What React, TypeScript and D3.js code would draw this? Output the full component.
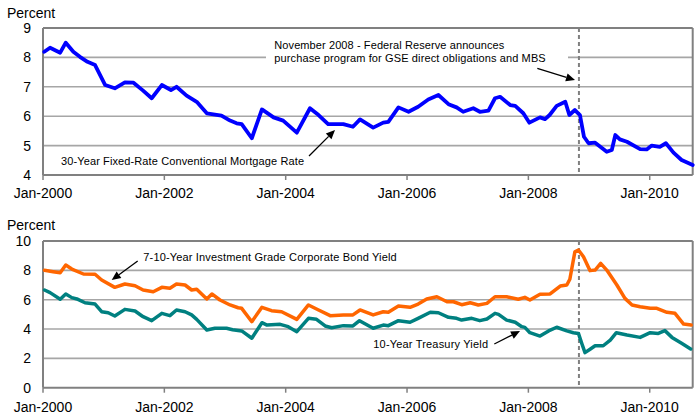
import React from "react";
import * as d3 from "d3";

// Months since Jan-2000 (fractional positions) and values
const mortgageMonths = [0.25,1.4,3.4,4.5,6,7.3,8.8,10.3,12.3,14.2,16.2,17.9,19.8,21.5,23.5,25.3,26.4,28.4,30.4,32.4,35.3,37,38.3,39.3,41.3,43.3,45.6,47.5,50.2,52.8,54.5,56.4,59.4,61.3,62.7,65.3,67.3,68.3,70.3,72.3,74.2,76.2,78.2,80.2,81.8,83.1,85.1,86.4,88.1,89.4,90.4,92.4,93.4,95,96.2,98.3,99.3,100.2,101.6,103.3,104.1,105.2,106.2,107,107.9,109.2,111.5,112.5,113.2,114.1,115.5,118.1,119.4,120.4,122,123.2,124.7,126.3,128.5];
const mortgageRates = [8.19,8.33,8.16,8.5,8.19,8.02,7.85,7.74,7.06,6.95,7.15,7.14,6.87,6.61,7.06,6.89,7.0,6.7,6.49,6.1,6.02,5.85,5.76,5.73,5.25,6.23,5.96,5.85,5.44,6.27,6.04,5.73,5.73,5.64,5.89,5.61,5.78,5.81,6.3,6.15,6.32,6.57,6.72,6.41,6.3,6.15,6.27,6.15,6.19,6.61,6.66,6.38,6.35,6.1,5.78,5.96,5.9,6.04,6.35,6.49,6.04,6.21,6.04,5.3,5.08,5.1,4.79,4.85,5.36,5.21,5.13,4.88,4.87,5.0,4.96,5.08,4.76,4.51,4.34];

const corporateMonths = [0.3,2,3.4,4.5,5.7,8,10.3,11.6,14.2,16.2,18.2,19.8,21.8,23.5,25.1,26.4,28.1,29.4,30.4,32.4,33.4,35,37,38.6,39.3,41.3,43.3,45.2,47.2,50.2,52.5,54.5,56.8,59.4,61.3,62.7,65.3,67.3,68.3,70.3,72.6,74.2,75.9,77.9,79.9,81.2,82.8,84.5,86.1,87.8,89.4,91.7,94,95.3,96.3,98.3,100.3,102.3,103.6,104.2,105.2,105.9,106.9,108.2,109.2,110.3,111.5,113.5,115.1,116.5,118.1,120.1,121.4,123.4,125,126.7,128.2];
const corporateYields = [8.0,7.91,7.84,8.36,8.09,7.75,7.73,7.34,6.84,7.07,6.95,6.66,6.54,6.84,6.78,7.07,7.0,6.66,6.71,6.05,6.39,5.98,5.64,5.45,5.41,4.5,5.48,5.25,5.18,4.66,5.64,5.3,4.91,4.96,4.96,5.3,4.96,5.18,5.14,5.57,5.48,5.7,6.05,6.2,5.86,5.86,5.66,5.79,5.64,5.75,6.2,6.2,6.03,6.16,5.98,6.37,6.39,6.93,7.0,7.39,9.27,9.39,8.93,7.98,8.02,8.48,8.02,7.0,6.09,5.64,5.52,5.41,5.41,5.14,5.07,4.34,4.27];

const treasuryMonths = [0.3,1.4,3.4,4.5,5.7,6.7,8.3,10.3,11.6,12.9,14.2,16.2,18.2,19.8,21.5,23.5,25.1,26.4,28.1,29.4,30.4,32.4,34,36.3,37.5,39.3,41.3,43.3,44.3,46.9,48.5,50.2,52.5,54.1,55.8,57.1,59.4,61.3,62.6,65.3,67.3,68.3,70.3,72.6,74.2,76.6,78.2,80.2,81.8,82.8,84.8,86.4,87.8,89.4,90.1,91.7,93.4,94.7,95.3,96.3,98.3,100,101.6,103.6,104.9,105.9,106.6,107.2,108.2,109.2,110.8,112.2,113.4,115.5,118.1,120.1,121.7,123,124.4,126.3,128.1];
const treasuryYields = [6.66,6.48,6.03,6.39,6.14,6.05,5.79,5.7,5.18,5.11,4.89,5.34,5.23,4.84,4.57,5.07,4.91,5.3,5.18,4.96,4.66,3.93,4.05,4.05,3.95,3.87,3.37,4.43,4.27,4.32,4.16,3.82,4.73,4.66,4.21,4.09,4.23,4.21,4.57,4.05,4.27,4.23,4.57,4.46,4.73,5.14,5.11,4.8,4.73,4.61,4.73,4.57,4.68,5.07,5.0,4.61,4.46,4.16,4.11,3.75,3.52,3.87,4.12,3.87,3.75,3.7,2.98,2.39,2.62,2.86,2.86,3.25,3.75,3.59,3.43,3.75,3.7,3.89,3.43,3.03,2.64];

const xTickMonths = [0, 24, 48, 72, 96, 120];
const xTickLabels = ["Jan-2000", "Jan-2002", "Jan-2004", "Jan-2006", "Jan-2008", "Jan-2010"];
const topYTicks = [4, 5, 6, 7, 8, 9];
const bottomYTicks = [0, 2, 4, 6, 8, 10];
const eventMonth = 106; // November 2008

const FONT = "'Liberation Sans', Arial, Helvetica, sans-serif";
const GRID = "#a6a6a6";
const BORDER = "#808080";

const x = d3.scaleLinear().domain([0, 128.5]).range([43, 692.7]);

type PanelProps = {
  yDomain: [number, number];
  yRange: [number, number];
  yTicks: number[];
  series: { months: number[]; values: number[]; color: string; width: number }[];
  labelY: number;
  percentY: number;
  children?: React.ReactNode;
  maskGrid?: (y: number) => React.ReactNode;
};

function Panel({ yDomain, yRange, yTicks, series, labelY, percentY, children }: PanelProps) {
  const y = d3.scaleLinear().domain(yDomain).range(yRange);
  const [x0, x1] = x.range();
  const yTop = yRange[1];
  const yBot = yRange[0];
  return (
    <g>
      <text x={7} y={percentY} fontSize={14} fontFamily={FONT} fill="#000">Percent</text>
      {yTicks.map((t) => (
        <g key={t}>
          {t !== yDomain[0] && t !== yDomain[1] && (
            <line x1={x0} x2={x1} y1={y(t)} y2={y(t)} stroke={GRID} strokeWidth={1.6} />
          )}
          <text x={31} y={y(t)} dy="0.36em" textAnchor="end" fontSize={14} fontFamily={FONT} fill="#000">{t}</text>
        </g>
      ))}
      {/* border */}
      <line x1={x0} x2={x1} y1={yTop} y2={yTop} stroke={BORDER} strokeWidth={2} />
      <line x1={x1} x2={x1} y1={yTop} y2={yBot} stroke={BORDER} strokeWidth={2} />
      <line x1={x0} x2={x0} y1={yTop} y2={yBot} stroke={BORDER} strokeWidth={2} />
      <line x1={x0} x2={x1} y1={yBot} y2={yBot} stroke={BORDER} strokeWidth={2} />
      {xTickMonths.map((m, i) => (
        <g key={m}>
          <line x1={x(m)} x2={x(m)} y1={yBot} y2={yBot + 5} stroke={BORDER} strokeWidth={1.5} />
          <text x={x(m)} y={labelY} textAnchor="middle" fontSize={14} fontFamily={FONT} fill="#000">{xTickLabels[i]}</text>
        </g>
      ))}
      {children}
      <line x1={x(eventMonth)} x2={x(eventMonth)} y1={yTop} y2={yBot} stroke={BORDER} strokeWidth={2} strokeDasharray="4,3" />
      {series.map((s, i) => {
        const pts: [number, number][] = s.months.map((m, j) => [m, s.values[j]]);
        const path = d3.line<[number, number]>().x((d) => x(d[0])).y((d) => y(d[1]))(pts) || "";
        return <path key={i} d={path} fill="none" stroke={s.color} strokeWidth={s.width} strokeLinejoin="round" strokeLinecap="round" />;
      })}
    </g>
  );
}

function Arrow({ x1, y1, x2, y2 }: { x1: number; y1: number; x2: number; y2: number }) {
  const ang = Math.atan2(y2 - y1, x2 - x1);
  const L = 9, W = 4;
  const bx = x2 - L * Math.cos(ang), by = y2 - L * Math.sin(ang);
  const px = -Math.sin(ang) * W, py = Math.cos(ang) * W;
  return (
    <g>
      <line x1={x1} y1={y1} x2={bx} y2={by} stroke="#000" strokeWidth={1.3} />
      <path d={`M${x2},${y2}L${bx + px},${by + py}L${bx - px},${by - py}Z`} fill="#000" />
    </g>
  );
}

export default function App() {
  return (
    <svg width={700} height={419} style={{ position: "absolute", left: 0, top: 0, background: "#fff" }}>
      <rect width={700} height={419} fill="#fff" />
      <Panel
        yDomain={[4, 9]}
        yRange={[175, 28]}
        yTicks={topYTicks}
        percentY={18}
        labelY={198}
        series={[{ months: mortgageMonths, values: mortgageRates, color: "#0000ff", width: 3.8 }]}
      >
        <rect x={266} y={38} width={302} height={30} fill="#fff" />
        <text x={274.3} y={49.3} fontSize={11} fontFamily={FONT} textLength={230} lengthAdjust="spacing">November 2008  - Federal Reserve announces</text>
        <text x={274.3} y={61.5} fontSize={11} fontFamily={FONT} textLength={271.4} lengthAdjust="spacing">purchase program for GSE direct obligations and MBS</text>
        <text x={61} y={165} fontSize={11} fontFamily={FONT} textLength={243} lengthAdjust="spacing">30-Year Fixed-Rate Conventional Mortgage Rate</text>
      </Panel>
      <Panel
        yDomain={[0, 10]}
        yRange={[387.7, 241]}
        yTicks={bottomYTicks}
        percentY={230}
        labelY={411.5}
        series={[
          { months: corporateMonths, values: corporateYields, color: "#ff6600", width: 3.5 },
          { months: treasuryMonths, values: treasuryYields, color: "#008080", width: 3.5 },
        ]}
      >
        <text x={143.3} y={260.5} fontSize={11} fontFamily={FONT} textLength={253.4} lengthAdjust="spacing">7-10-Year Investment Grade Corporate Bond Yield</text>
        <text x={373.3} y={348} fontSize={11} fontFamily={FONT} textLength={114.7} lengthAdjust="spacing">10-Year Treasury Yield</text>
      </Panel>
      <Arrow x1={309} y1={156} x2={335} y2={130} />
      <Arrow x1={537.3} y1={68.3} x2={575} y2={80} />
      <Arrow x1={137.7} y1={261} x2={111.7} y2={280} />
      <Arrow x1={494.3} y1={344} x2={520} y2={331} />
    </svg>
  );
}
